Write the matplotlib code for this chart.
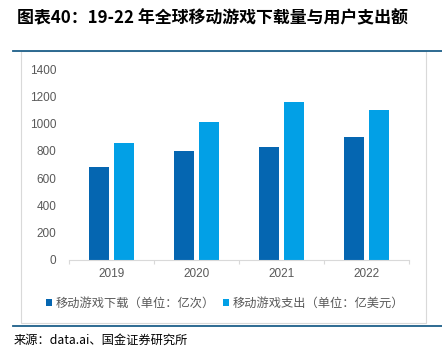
import numpy as np
import matplotlib
matplotlib.use('Agg')
import matplotlib.pyplot as plt
from matplotlib.patches import Rectangle
from matplotlib.lines import Line2D

plt.rcParams['font.family'] = ['Noto Sans CJK SC', 'DejaVu Sans']

years = ['2019', '2020', '2021', '2022']
downloads = [682, 797, 831, 902]      # 亿次
spending = [858, 1009, 1161, 1097]    # 亿美元
yticks = [0, 200, 400, 600, 800, 1000, 1200, 1400]

dark_blue = '#0566b1'
light_blue = '#02a0e6'
line_blue = '#1d5f89'

fig = plt.figure(figsize=(4.42, 3.52), dpi=100)

# 外框和分隔线
fig.patches.append(Rectangle((21 / 442, 1 - 323 / 352), 405 / 442, 272 / 352,
                             transform=fig.transFigure, fill=False,
                             edgecolor='#d9d9d9', linewidth=0.8))
fig.lines.append(Line2D([13 / 442, 1], [1 - 50.5 / 352] * 2, transform=fig.transFigure,
                        color=line_blue, linewidth=1.3))
fig.lines.append(Line2D([13 / 442, 1], [1 - 326 / 352] * 2, transform=fig.transFigure,
                        color=line_blue, linewidth=1.3))

ax = fig.add_axes([69 / 442, 1 - 260 / 352, 340 / 442, 191 / 352])
x = np.arange(len(years))
w = 0.235
ax.bar(x - 0.142, downloads, width=w, color=dark_blue, label='移动游戏下载（单位：亿次）')
ax.bar(x + 0.142, spending, width=w, color=light_blue, label='移动游戏支出（单位：亿美元）')

ax.set_xlim(-0.5, 3.5)
ax.set_ylim(0, 1400)
ax.set_yticks(yticks)
ax.set_xticks(x)
ax.set_xticklabels(years)
ax.set_xticks(np.arange(-0.5, 4, 1), minor=True)
for lab in ax.get_xticklabels() + ax.get_yticklabels():
    lab.set_fontfamily(['Liberation Sans', 'DejaVu Sans'])
ax.tick_params(axis='x', which='major', length=0, pad=6, labelsize=8.5, labelcolor='#595959')
ax.tick_params(axis='x', which='minor', length=3, color='#d9d9d9', width=0.8)
ax.tick_params(axis='y', length=0, pad=9, labelsize=8.5, labelcolor='#595959')
for s in ['top', 'right', 'left']:
    ax.spines[s].set_visible(False)
ax.spines['bottom'].set_color('#d9d9d9')
ax.spines['bottom'].set_linewidth(0.8)

fig.legend(loc='center', bbox_to_anchor=(225 / 442, 1 - 303 / 352), ncol=2, frameon=False,
           fontsize=8.8, handlelength=0.5, handleheight=0.5, handletextpad=0.3,
           columnspacing=0.6, labelcolor='#595959')

fig.text(17 / 442, 1 - 18 / 352, '图表40：19-22 年全球移动游戏下载量与用户支出额',
         fontsize=12.2, fontweight='bold', va='center', ha='left', color='black')
fig.text(14 / 442, 1 - 340 / 352, '来源：data.ai、国金证券研究所',
         fontsize=8.8, va='center', ha='left', color='black')

fig.savefig('out.png', dpi=100)
